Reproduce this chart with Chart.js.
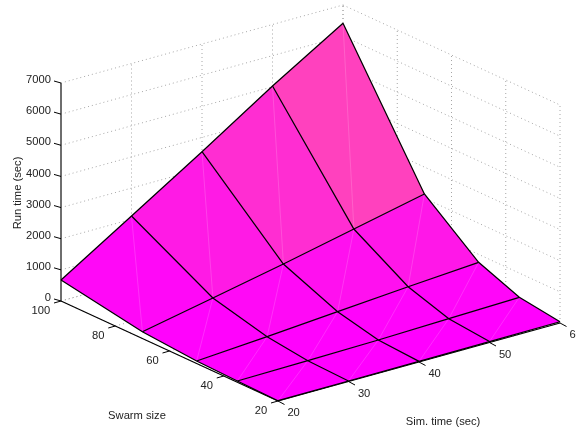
<!DOCTYPE html>
<html>
<head>
<meta charset="utf-8">
<title>Run time surface</title>
<script src="https://cdn.jsdelivr.net/npm/chart.js@4"></script>
<style>
    html, body { margin: 0; padding: 0; background: #fff; overflow: hidden; }
    canvas { display: block; }
</style>
</head>
<body>
<canvas id="surfaceChart" width="576" height="431"></canvas>
<script>
// swarm size rows / sim time columns of the measured surface
const swarmSizes = [20, 35, 50, 70, 100];
const simTimes = [20, 30, 40, 50, 60];
const runTimeSwarm20 = [10, 16, 20, 30, 40];
const runTimeSwarm35 = [40, 66, 104, 162, 223];
const runTimeSwarm50 = [80, 234, 411, 587, 745];
const runTimeSwarm70 = [218, 674, 1140, 1637, 2135];
const runTimeSwarm100 = [674, 2103, 3541, 5025, 6412];
const runTimes = [runTimeSwarm20, runTimeSwarm35, runTimeSwarm50, runTimeSwarm70, runTimeSwarm100];

const runTimeTicks = [0, 1000, 2000, 3000, 4000, 5000, 6000, 7000];
const swarmTicks = [20, 40, 60, 80, 100];
const simTicks = [20, 30, 40, 50, 60];

// view of the box on the page, the rest of the chart goes through this
const view = { x0: 278, y0: 401, swarmDx: -217, swarmDy: -100, simDx: 282, simDy: -78, zHeight: 218 };

function project(swarm, sim, runTime) {
    const a = (swarm - 20) / 80;
    const b = (sim - 20) / 40;
    return {
        x: view.x0 + a * view.swarmDx + b * view.simDx,
        y: view.y0 + a * view.swarmDy + b * view.simDy - runTime / 7000 * view.zHeight
    };
}

function offset(point, dx, dy) {
    return { x: point.x + dx, y: point.y + dy };
}

// matlab "spring" colormap, colour comes from the lower corner of the face
function springColor(runTime) {
    const all = runTimes.flat();
    const min = Math.min(...all);
    const max = Math.max(...all);
    const c = (runTime - min) / (max - min);
    return `rgb(255, ${Math.round(255 * c)}, ${Math.round(255 * (1 - c))})`;
}

const datasets = [];

function addLine(points, color, width, dash) {
    datasets.push({
        data: points,
        showLine: true,
        fill: false,
        borderColor: color,
        borderWidth: width,
        borderDash: dash || [],
        pointRadius: 0,
        tension: 0,
        order: 1000 - datasets.length
    });
}

function addFace(points, color) {
    datasets.push({
        data: points.concat([points[0]]),
        showLine: true,
        fill: 'shape',
        backgroundColor: color,
        borderColor: color,
        borderWidth: 0,
        pointRadius: 0,
        tension: 0,
        order: 1000 - datasets.length
    });
}

const gridColor = '#a6a6a6';
const gridDash = [1, 3];

function addBox() {
    // walls
    runTimeTicks.forEach(z => {
        addLine([project(100, 20, z), project(100, 60, z)], gridColor, 1, gridDash);
        addLine([project(100, 60, z), project(20, 60, z)], gridColor, 1, gridDash);
    });
    simTicks.forEach(t => {
        addLine([project(100, t, 0), project(100, t, 7000)], gridColor, 1, gridDash);
        addLine([project(100, t, 0), project(20, t, 0)], gridColor, 1, gridDash);
    });
    swarmTicks.forEach(s => {
        addLine([project(s, 60, 0), project(s, 60, 7000)], gridColor, 1, gridDash);
        addLine([project(s, 20, 0), project(s, 60, 0)], gridColor, 1, gridDash);
    });

    // axes and ticks
    addLine([project(100, 20, 0), project(100, 20, 7000)], '#6e6e6e', 2);
    addLine([project(100, 20, 0), project(20, 20, 0)], '#000', 1.2);
    addLine([project(20, 20, 0), project(20, 60, 0)], '#000', 1.2);
    runTimeTicks.forEach(z => {
        const p = project(100, 20, z);
        addLine([p, offset(p, -7, -2)], '#000', 1);
    });
    swarmTicks.forEach(s => {
        const p = project(s, 20, 0);
        addLine([p, offset(p, -7, 2)], '#000', 1);
    });
    simTicks.forEach(t => {
        const p = project(20, t, 0);
        addLine([p, offset(p, 6.5, 3.5)], '#000', 1);
    });
}

function addSurface() {
    const vertex = (i, j) => project(swarmSizes[i], simTimes[j], runTimes[i][j]);

    // back faces first
    for (let i = swarmSizes.length - 2; i >= 0; i--) {
        for (let j = simTimes.length - 2; j >= 0; j--) {
            addFace([vertex(i, j), vertex(i, j + 1), vertex(i + 1, j + 1), vertex(i + 1, j)], springColor(runTimes[i][j]));
            addLine([vertex(i, j), vertex(i + 1, j + 1)], 'rgba(255, 255, 255, 0.18)', 0.9);
        }
    }

    swarmSizes.forEach((s, i) => {
        addLine(simTimes.map((t, j) => vertex(i, j)), '#000', 1.25);
    });
    simTimes.forEach((t, j) => {
        addLine(swarmSizes.map((s, i) => vertex(i, j)), '#000', 1.25);
    });
}

const axisText = {
    id: 'axisText',
    afterDatasetsDraw(chart) {
        const ctx = chart.ctx;
        const px = p => chart.scales.x.getPixelForValue(p.x);
        const py = p => chart.scales.y.getPixelForValue(p.y);

        ctx.save();
        ctx.font = '11.2px "Liberation Sans", Arial, sans-serif';
        ctx.fillStyle = '#222';
        ctx.textBaseline = 'middle';

        ctx.textAlign = 'right';
        runTimeTicks.forEach(z => {
            const p = offset(project(100, 20, z), -10, -3);
            ctx.fillText(String(z), px(p), py(p));
        });
        swarmTicks.forEach(s => {
            const p = offset(project(s, 20, 0), -10.8, 10);
            ctx.fillText(String(s), px(p), py(p));
        });

        ctx.textAlign = 'left';
        simTicks.forEach(t => {
            const p = offset(project(20, t, 0), 9.4, 12);
            ctx.fillText(String(t), px(p), py(p));
        });

        ctx.textAlign = 'center';
        ctx.fillText('Swarm size', 137, 416);
        ctx.fillText('Sim. time (sec)', 443, 422);

        ctx.translate(18, 193);
        ctx.rotate(-Math.PI / 2);
        ctx.fillText('Run time (sec)', 0, 0);
        ctx.restore();
    }
};

document.addEventListener('DOMContentLoaded', () => {
    addBox();
    addSurface();

    new Chart(document.getElementById('surfaceChart'), {
        type: 'scatter',
        data: { datasets: datasets },
        options: {
            responsive: false,
            animation: false,
            layout: { padding: 0 },
            plugins: {
                legend: { display: false },
                tooltip: { enabled: false },
                title: { display: false }
            },
            scales: {
                x: { type: 'linear', min: 0, max: 576, display: false },
                y: { type: 'linear', min: 0, max: 431, reverse: true, display: false }
            }
        },
        plugins: [axisText]
    });
});
</script>
</body>
</html>
